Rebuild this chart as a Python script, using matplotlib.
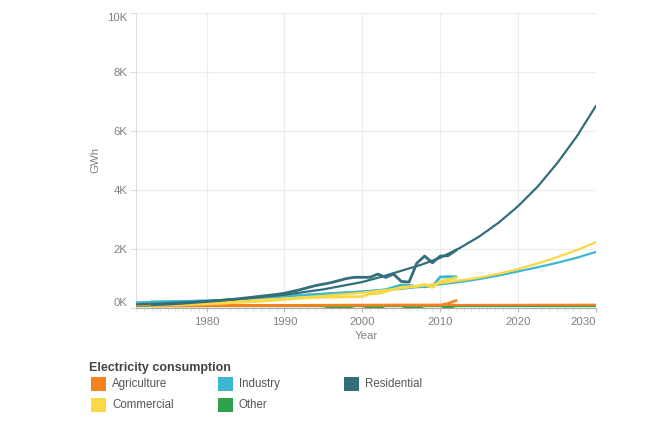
import matplotlib
matplotlib.use("Agg")
import matplotlib.pyplot as plt
from matplotlib.patches import Rectangle

plt.rcParams['font.family'] = ['Liberation Sans', 'DejaVu Sans']

# categories in legend order
categories = ["Agriculture", "Commercial", "Industry", "Other", "Residential"]
colors = {"Agriculture": "#f58220", "Commercial": "#fbd846", "Industry": "#3db7cf",
          "Other": "#2ea14e", "Residential": "#336f7b"}

# historical data, GWh
hist_years = list(range(1973, 2013))
agriculture = [70, 70, 72, 72, 74, 75, 76, 78, 80, 80, 82, 82, 84, 85, 86, 86, 88, 88, 90, 90,
               92, 92, 94, 94, 95, 95, 96, 96, 98, 98, 100, 100, 100, 100, 100, 100, 100, 100, 150, 250]
commercial = [90, 95, 100, 105, 110, 120, 130, 140, 150, 160, 175, 190, 200, 215, 230, 250, 270, 290, 310, 330,
              345, 355, 365, 370, 375, 380, 385, 390, 480, 490, 560, 630, 700, 720, 740, 800, 700, 900, 960, 1020]
industry = [210, 210, 215, 215, 220, 225, 230, 240, 250, 260, 275, 290, 305, 320, 340, 360, 380, 400, 415, 430,
            445, 460, 475, 490, 505, 520, 535, 550, 570, 590, 620, 700, 780, 770, 720, 720, 740, 1050, 1060, 1060]
other = [80, 80, 80, 80, 80, 80, 80, 80, 80, 80, 80, 80, 80, 80, 80, 80, 80, 80, 80, 80,
         80, 80, 80, 10, 5, 10, 80, 80, 10, 5, 80, 80, 80, 10, 5, 80, 80, 80, 10, 80]
residential = [110, 120, 130, 145, 160, 180, 200, 220, 240, 260, 285, 310, 340, 370, 400, 430, 460, 500, 560, 620,
               690, 760, 810, 860, 930, 1000, 1040, 1040, 1040, 1150, 1035, 1150, 900, 880, 1520, 1760, 1530, 1760, 1770, 1950]

# trend lines, GWh
trend_years = [1971, 1975, 1980, 1985, 1990, 1995, 2000, 2002.5, 2005, 2007.5, 2010,
               2012.5, 2015, 2017.5, 2020, 2022.5, 2025, 2027.5, 2030]
agriculture_trend = [90, 90, 92, 94, 95, 96, 98, 98, 100, 100, 100,
                     102, 102, 104, 104, 106, 106, 108, 110]
commercial_trend = [125, 150, 195, 250, 320, 410, 520, 590, 670, 750, 840,
                    930, 1030, 1160, 1320, 1510, 1720, 1960, 2230]
industry_trend = [190, 215, 250, 300, 400, 470, 550, 600, 650, 720, 800,
                  880, 980, 1100, 1240, 1380, 1530, 1700, 1900]
other_trend = [60, 60, 60, 60, 60, 60, 60, 60, 60, 60, 60,
               60, 60, 60, 60, 60, 60, 60, 60]
residential_trend = [125, 165, 230, 320, 450, 630, 880, 1060, 1260, 1460, 1700,
                     2030, 2420, 2890, 3450, 4110, 4900, 5800, 6850]

hist = {"Agriculture": agriculture, "Commercial": commercial, "Industry": industry,
        "Other": other, "Residential": residential}
trend = {"Agriculture": agriculture_trend, "Commercial": commercial_trend, "Industry": industry_trend,
         "Other": other_trend, "Residential": residential_trend}

fig = plt.figure(figsize=(6.48, 4.40), dpi=100)
ax = fig.add_axes([0.2099, 0.30, 0.7099, 0.671])

draw_order = ["Other", "Agriculture", "Industry", "Commercial", "Residential"]
for name in draw_order:
    ax.plot(trend_years, trend[name], color=colors[name], lw=1.6, solid_capstyle='round', zorder=3)
    ax.plot(hist_years, hist[name], color=colors[name], lw=2.0, solid_joinstyle='round', zorder=3)

ax.set_xlim(1970.95, 2030)
ax.set_ylim(0, 10000)

xt = [1980, 1990, 2000, 2010, 2020, 2030]
yt = [0, 2000, 4000, 6000, 8000, 10000]
ax.set_xticks(xt)
ax.set_xticklabels([str(x) for x in xt])
ax.set_xticks(range(1971, 2031), minor=True)
ax.set_yticks(yt)
ax.set_yticklabels(["%dK" % (y // 1000) for y in yt])

for lab in ax.get_xticklabels():
    if lab.get_text() == "2030":
        lab.set_horizontalalignment('right')
ylabs = ax.get_yticklabels()
ylabs[0].set_verticalalignment('bottom')
ylabs[-1].set_verticalalignment('top')

ax.grid(True, which='major', color='#ececec', lw=0.8, zorder=0)
ax.tick_params(axis='x', which='major', length=3, pad=3.5, color='#bbbbbb', labelsize=8.2, labelcolor='#808080')
ax.tick_params(axis='x', which='minor', length=1.8, color='#dddddd')
ax.tick_params(axis='y', length=4.5, pad=1.5, color='#dddddd', labelsize=8.2, labelcolor='#808080')

for s in ['top', 'right']:
    ax.spines[s].set_visible(False)
ax.spines['left'].set_color('#dddddd')
ax.spines['bottom'].set_color('#aaaaaa')
ax.spines['left'].set_linewidth(0.8)
ax.spines['bottom'].set_linewidth(0.8)

ax.set_xlabel("Year", fontsize=8.2, color='#808080', labelpad=3)
ax.set_ylabel("GWh", fontsize=8.2, color='#808080', labelpad=5)

# legend
W, H = 648.0, 440.0
fig.text(89 / W, 1 - 368 / H, "Electricity consumption", fontsize=9, fontweight='bold',
         color='#444444', ha='left', va='center')
col_x = [91, 218, 344]
row_y = [384, 405]
for i, name in enumerate(categories):
    cx = col_x[i // 2]
    ry = row_y[i % 2]
    fig.add_artist(Rectangle((cx / W, 1 - (ry + 7) / H), 15 / W, 14 / H,
                             transform=fig.transFigure, facecolor=colors[name], edgecolor='none'))
    fig.text((cx + 21) / W, 1 - ry / H, name, fontsize=8.3, color='#555555', ha='left', va='center')

fig.savefig("out.png", dpi=100)
